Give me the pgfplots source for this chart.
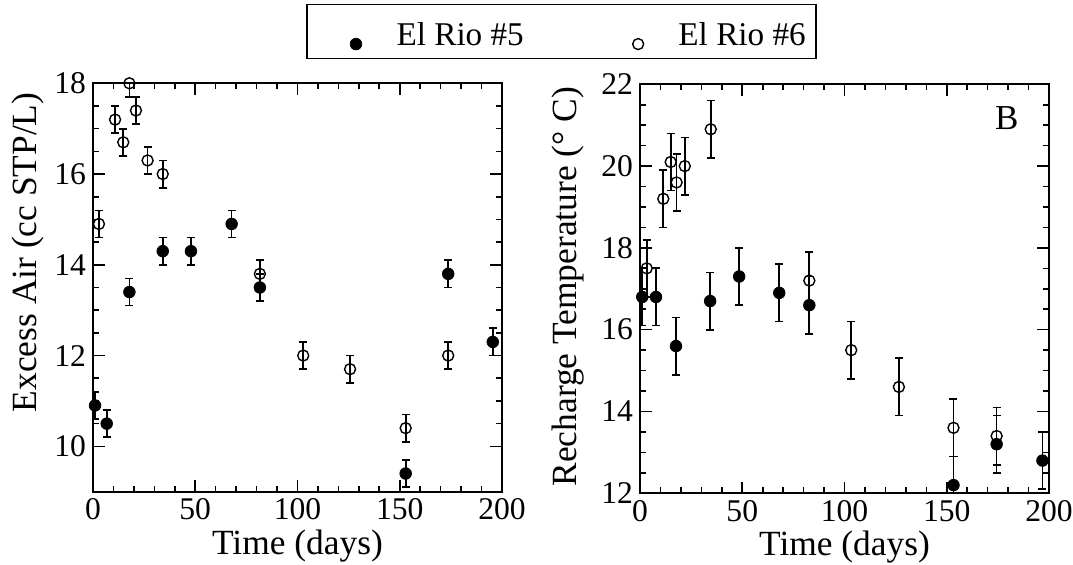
\documentclass[border=0pt]{standalone}
\usepackage{fontspec}
\setmainfont{Liberation Serif}
\usepackage{pgfplots}
\usepackage{pgfplotstable}
\pgfplotsset{compat=1.18}

\pgfplotstableread{
x y e
1.0 10.9 0.3
6.7 10.5 0.3
17.8 13.4 0.3
34.1 14.3 0.3
47.9 14.3 0.3
67.8 14.9 0.3
81.6 13.5 0.3
152.9 9.4 0.3
173.7 13.8 0.3
195.5 12.3 0.3
}\airfive
\pgfplotstableread{
x y e
2.9 14.9 0.3
10.8 17.2 0.3
14.8 16.7 0.3
17.8 18.0 0.3
21.0 17.4 0.3
26.7 16.3 0.3
34.1 16.0 0.3
81.6 13.8 0.3
102.8 12.0 0.3
125.7 11.7 0.3
152.9 10.4 0.3
173.7 12.0 0.3
}\airsix
\pgfplotstableread{
x y e
1.1 16.8 0.7
7.8 16.8 0.7
17.6 15.6 0.7
34.3 16.7 0.7
48.5 17.3 0.7
68.1 16.9 0.7
82.8 16.6 0.7
153.3 12.2 0.7
174.4 13.2 0.7
196.8 12.8 0.7
}\tempfive
\pgfplotstableread{
x y e
3.3 17.5 0.7
11.4 19.2 0.7
15.0 20.1 0.7
17.9 19.6 0.7
21.9 20.0 0.7
34.6 20.9 0.7
82.8 17.2 0.7
103.3 15.5 0.7
126.6 14.6 0.7
153.3 13.6 0.7
174.4 13.4 0.7
}\tempsix

\pgfplotsset{
  panel/.style={
    scale only axis, width=204.5pt, height=204.5pt,
    xmin=0, xmax=200, xtick={0,50,...,200}, minor x tick num=4,
    minor y tick num=3,
    tick align=inside, major tick length=5.8pt, minor tick length=2.9pt,
    axis line style={line width=0.9pt},
    every tick/.style={black, line width=0.8pt},
    tick label style={font=\fontsize{15.8}{18}\selectfont},
    /pgf/number format/assume math mode=true,
    label style={font=\fontsize{17.7}{20}\selectfont},
    error bars/y dir=both, error bars/y explicit,
    error bars/error bar style={line width=0.85pt, black},
    error bars/error mark options={rotate=90, mark size=2pt, line width=0.85pt, black},
  },
  filled/.style={only marks, mark=*, mark size=2.9pt, mark options={fill=black, draw=black, line width=0.4pt}},
  open/.style={only marks, mark=o, mark size=2.75pt, mark options={draw=black, fill=none, line width=0.7pt}},
}

\begin{document}
\begin{tikzpicture}
\path[use as bounding box] (0pt,0pt) rectangle (536.5pt,282.5pt);
\begin{axis}[panel, at={(46.5pt,36.65pt)}, anchor=south west,
  height=204.2pt,
  ymin=9, ymax=18, ytick={10,12,...,18},
  xlabel={Time (days)}, ylabel={Excess Air (cc STP/L)},
  xlabel style={at={(axis description cs:0.5,-0.155)}, anchor=base},
  ylabel style={at={(axis description cs:-0.160,0.586)}, anchor=center},
  legend columns=2,
  legend image code/.code={\path[draw=none, fill=none] (-19.35pt,-4.5pt) rectangle (0pt,18.5pt); \draw[#1] plot coordinates {(0pt,0.65pt)};},
  legend style={at={(axis description cs:1.1455,1.1271)}, anchor=center,
    draw=black, line width=0.8pt, inner xsep=5pt, inner ysep=2pt,
    font=\fontsize{16.6}{19}\selectfont,
    cells={anchor=base west}, nodes={inner sep=0pt},
    /tikz/every odd column/.append style={column sep=17.4pt},
    /tikz/every even column/.append style={column sep=37.8pt}},
]
\addplot[filled] table[x=x, y=y, y error=e] {\airfive};
\addlegendentry{El Rio \#5}
\addplot[open] table[x=x, y=y, y error=e] {\airsix};
\addlegendentry{El Rio \#6}
\end{axis}
\begin{axis}[panel, at={(320pt,35.85pt)}, anchor=south west,
  ymin=12, ymax=22, ytick={12,14,...,22},
  xlabel={Time (days)}, ylabel={Recharge Temperature (° C)},
  xlabel style={at={(axis description cs:0.5,-0.151)}, anchor=base},
  ylabel style={at={(axis description cs:-0.175,0.505)}, anchor=center},
]
\addplot[filled] table[x=x, y=y, y error=e] {\tempfive};
\addplot[open] table[x=x, y=y, y error=e] {\tempsix};
\node[font=\fontsize{17.5}{20}\selectfont] at (rel axis cs:0.897,0.917) {B};
\end{axis}
\end{tikzpicture}
\end{document}
